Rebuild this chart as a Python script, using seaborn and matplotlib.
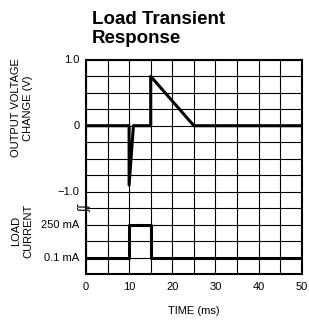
import numpy as np
import pandas as pd
import matplotlib
matplotlib.use('Agg')
import matplotlib.pyplot as plt
import seaborn as sns

# -- -- -- -- --    data -- -- -- -- --

time_v = [0, 10, 10, 11, 15, 15, 25, 50]          # ms
volt_change = [0, 0, -0.9, 0, 0, 0.75, 0, 0]       # V

time_i = [0, 10, 10, 15, 15, 50]                   # ms
load_level = ['0.1 mA', '0.1 mA', '250 mA', '250 mA', '0.1 mA', '0.1 mA']

# where the current levels sit on the shared vertical scale
level_pos = {'0.1 mA': -2.0, '250 mA': -1.5}

x_ticks = [0, 10, 20, 30, 40, 50]
y_ticks = [1.0, 0, -1.0, -1.5, -2.0]
y_ticklabels = ['1.0', '0', '\u22121.0', '250 mA', '0.1 mA']

df_v = pd.DataFrame({'t': time_v, 'y': volt_change})
df_i = pd.DataFrame({'t': time_i, 'y': [level_pos[l] for l in load_level]})

# -- -- -- -- --    plot -- -- -- -- --

sns.set_style('white')
plt.rcParams['text.color'] = 'black'
narrow = ['Liberation Sans Narrow', 'Liberation Sans', 'DejaVu Sans']

fig = plt.figure(figsize=(3.09, 3.26), dpi=100)
ax = fig.add_axes([0.278, 0.1595, 0.699, 0.657])

sns.lineplot(data=df_v, x='t', y='y', sort=False, estimator=None, color='black', lw=2.2, ax=ax)
sns.lineplot(data=df_i, x='t', y='y', sort=False, estimator=None, color='black', lw=2.2, ax=ax)

ax.set_xlim(0, 50)
ax.set_ylim(-2.25, 1.0)
ax.set_xticks(np.arange(0, 51, 5))
ax.set_yticks(np.arange(-2.25, 1.01, 0.25))
ax.grid(True, color='black', lw=0.8)
ax.tick_params(length=0, labelbottom=False, labelleft=False)
for s in ax.spines.values():
    s.set_color('black')
    s.set_linewidth(1.5)

for xt in x_ticks:
    ax.text(xt, -0.06, str(xt), transform=ax.get_xaxis_transform(),
            ha='center', va='center', fontsize=8, family=narrow)
for yt, lab in zip(y_ticks, y_ticklabels):
    ax.text(-0.03, yt, lab, transform=ax.get_yaxis_transform(),
            ha='right', va='center', fontsize=8, family=narrow)

ax.set_xlabel('')
ax.set_ylabel('')
ax.text(0.5, -0.175, 'TIME (ms)', transform=ax.transAxes,
        ha='center', va='center', fontsize=8, family=narrow)
ax.text(-0.296, 0.27, 'OUTPUT VOLTAGE\nCHANGE (V)', transform=ax.get_yaxis_transform(),
        ha='center', va='center', rotation=90, fontsize=8, family=narrow,
        linespacing=1.3)
ax.text(-0.296, -1.6, 'LOAD\nCURRENT', transform=ax.get_yaxis_transform(),
        ha='center', va='center', rotation=90, fontsize=8, family=narrow,
        linespacing=1.3)
# axis break mark
ax.text(-0.005, -1.25, '\u0283\u0283', transform=ax.get_yaxis_transform(),
        ha='center', va='center', fontsize=9, rotation=90, family=['DejaVu Sans'])

fig.text(0.298, 0.965, 'Load Transient\nResponse', ha='left', va='top',
         fontsize=13.5, fontweight='bold', family=['Liberation Sans', 'DejaVu Sans'],
         linespacing=1.15)

fig.savefig('out.png', dpi=100)
